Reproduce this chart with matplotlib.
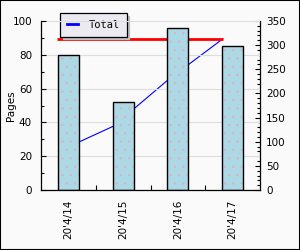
import matplotlib
matplotlib.use('Agg')
import matplotlib.pyplot as plt
from matplotlib.patches import Rectangle
from matplotlib.ticker import MultipleLocator, FixedLocator
import numpy as np

# data
dates = ["20'4/14", "20'4/15", "20'4/16", "20'4/17"]
pages = [80, 52, 96, 85]
total = [80, 132, 228, 313]
total_max = 313

plt.rcParams['font.family'] = 'DejaVu Sans'
plt.rcParams['hatch.linewidth'] = 0.5
bg = '#fafafa'

fig = plt.figure(figsize=(3, 2.5), dpi=100, facecolor=bg)
rect = [41 / 300, 60 / 250, 219 / 300, 169 / 250]
ax2 = fig.add_axes(rect)          # right axis, drawn underneath
ax = fig.add_axes(rect, sharex=ax2)
ax2.set_facecolor(bg)
ax.patch.set_visible(False)

x = np.arange(len(dates))

# lines on the right scale (behind the bars)
ax2.plot(x - 0.18, total, color='blue', lw=0.8, label='Total')
ax2.hlines(total_max, -0.21, 2.82, color='red', lw=2)
ax2.set_ylim(0, 350)
ax2.yaxis.set_major_locator(MultipleLocator(50))
ax2.yaxis.set_minor_locator(MultipleLocator(10))
ax2.yaxis.tick_right()
for s in ['left', 'top', 'bottom']:
    ax2.spines[s].set_visible(False)
ax2.spines['right'].set_linewidth(0.9)
ax2.tick_params(axis='y', which='major', direction='in', length=3.6, width=0.8,
                pad=4.5, labelsize=7.5)
ax2.tick_params(axis='y', which='minor', direction='in', length=2.2, width=0.8)
ax2.tick_params(axis='x', which='both', length=0, labelbottom=False)

# bars with a dotted fill
ax.bar(x, pages, width=0.38, color='#add8e6', edgecolor='#d8b4bc', lw=0,
       hatch='..', zorder=2)
ax.bar(x, pages, width=0.38, fill=False, edgecolor='black', lw=1.0, zorder=3)

ax.set_xlim(-0.5, 3.5)
ax.set_ylim(0, 100)
ax.yaxis.set_major_locator(MultipleLocator(20))
ax.yaxis.set_minor_locator(MultipleLocator(10))
ax.set_xticks(x)
ax.set_xticklabels(dates, rotation=90, fontsize=7.5)
ax.xaxis.set_minor_locator(FixedLocator([0.5, 1.5, 2.5]))
ax.tick_params(axis='x', which='major', length=0, pad=7)
ax.tick_params(axis='x', which='minor', direction='in', length=3.6, width=0.8)
ax.tick_params(axis='y', which='major', direction='in', length=3.6, width=0.8,
               pad=6.5, labelsize=7.5)
ax.tick_params(axis='y', which='minor', direction='in', length=2.2, width=0.8)
ax.grid(axis='y', which='major', color='#dddddd', lw=0.8, zorder=0)
ax.set_axisbelow(True)
for s in ['top', 'right']:
    ax.spines[s].set_visible(False)
ax.spines['left'].set_linewidth(0.9)
ax.spines['bottom'].set_linewidth(0.9)
ax.set_ylabel('Pages', fontsize=7.5)
ax.yaxis.set_label_coords(-0.115, 0.5)

leg = ax2.legend(loc='upper left', bbox_to_anchor=(60 / 300, 1 - 13 / 250),
                 bbox_transform=fig.transFigure, fancybox=False,
                 shadow={'color': '#c0c0c0', 'alpha': 1},
                 prop={'family': 'DejaVu Sans Mono', 'size': 7.5},
                 handlelength=1.1, handletextpad=1.0, borderpad=0.65,
                 borderaxespad=0, framealpha=1)
leg.get_frame().set_facecolor('#ebeaf0')
leg.get_frame().set_edgecolor('black')
leg.get_frame().set_linewidth(0.9)
for h in leg.get_lines():
    h.set_linewidth(2)

fig.add_artist(Rectangle((0, 0), 1, 1, transform=fig.transFigure, fill=False,
                         ec='black', lw=1.5))

fig.savefig('out.png', dpi=100, facecolor=bg)
